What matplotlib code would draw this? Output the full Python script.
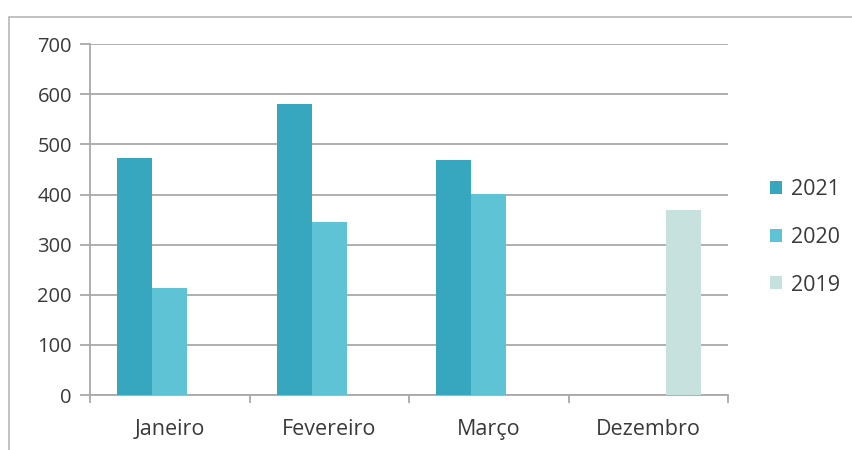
import numpy as np
import matplotlib.pyplot as plt
from matplotlib.patches import Rectangle

plt.rcParams['font.family'] = ['Open Sans', 'DejaVu Sans']

# data
months = ['Janeiro', 'Fevereiro', 'Março', 'Dezembro']
series = ['2021', '2020', '2019']
v2021 = [473, 580, 469, np.nan]
v2020 = [213, 345, 401, np.nan]
v2019 = [np.nan, np.nan, np.nan, 369]
colors = ['#37a7bf', '#5dc3d5', '#c7e2de']

fig = plt.figure(figsize=(8.53, 4.5), dpi=100)
ax = fig.add_axes([0.1055, 0.122, 0.748, 0.780])

# light frame around the chart like the scanned sheet
fig.patches.append(Rectangle((9 / 853, -0.05), 1.1, 1 - 17 / 450 + 0.05,
                             transform=fig.transFigure, fill=False,
                             edgecolor='#b8b8b8', linewidth=1.2))

idx = np.arange(len(months))
w = 0.22
for i, (vals, name) in enumerate(zip([v2021, v2020, v2019], series)):
    ax.bar(idx + (i - 1) * w, vals, width=w, color=colors[i], label=name, zorder=3)

ax.set_xlim(-0.5, 3.5)
ax.set_ylim(0, 700)
ax.set_yticks(np.arange(0, 701, 100))
ax.yaxis.grid(True, color='#a9a9a9', linewidth=1.3, zorder=0)

for s in ['top', 'right']:
    ax.spines[s].set_visible(False)
for s in ['left', 'bottom']:
    ax.spines[s].set_color('#a9a9a9')
    ax.spines[s].set_linewidth(1.3)

# category boundary ticks, labels on centers
ax.set_xticks(np.arange(-0.5, 4, 1))
ax.set_xticklabels([])
ax.set_xticks(idx, minor=True)
ax.set_xticklabels(months, minor=True)
ax.tick_params(axis='x', which='major', length=6, color='#a9a9a9', width=1.3)
ax.tick_params(axis='x', which='minor', length=0, pad=17, labelsize=15.5, labelcolor='#3a3a3a')
ax.tick_params(axis='y', length=7, color='#a9a9a9', width=1.3, labelsize=14.5,
               labelcolor='#3a3a3a', pad=6)

ax.legend(loc='center left', bbox_to_anchor=(1.035, 0.45), frameon=False,
          fontsize=15.5, labelcolor='#3a3a3a', handlelength=0.55, handleheight=0.55,
          handletextpad=0.45, labelspacing=1.25)

fig.savefig('out.png', dpi=100)
